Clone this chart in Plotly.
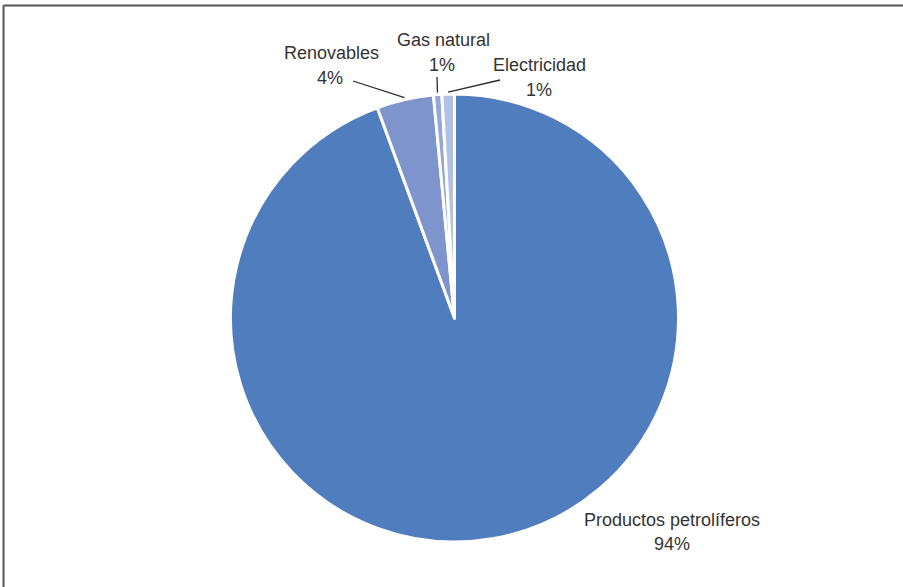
import math
import plotly.graph_objects as go

labels = ["Productos petrolíferos", "Renovables", "Gas natural", "Electricidad"]
values = [94.4, 4.1, 0.6, 0.9]
colors = ["#507DBE", "#7D94CD", "#93A7D8", "#B3C1E4"]

W, H = 903, 587
CX, CY, R = 454.5, 318, 224

def px(x):
    return x / W

def py(y):
    return 1 - y / H

fig = go.Figure(go.Pie(
    labels=labels, values=values, sort=False, direction="clockwise", rotation=0,
    marker=dict(colors=colors, line=dict(color="white", width=3)),
    textinfo="none", hoverinfo="label+percent", showlegend=False,
    domain=dict(x=[px(CX - R), px(CX + R)], y=[py(CY + R), py(CY - R)]),
))

# label anchor positions (pixels): name center, percent center, leader start
label_pos = {
    "Productos petrolíferos": ((672, 520), (672, 544), None),
    "Renovables": ((331, 53), (330, 78), (353, 81)),
    "Gas natural": ((443, 40), (442, 65), (437, 77)),
    "Electricidad": ((539, 65), (539, 90), (500, 80)),
}

total = sum(values)
cum = 0
annotations = []
shapes = []
font = dict(family="Liberation Sans, Arial, sans-serif", size=18, color="#333333")
for lab, v in zip(labels, values):
    mid = (cum + v / 2) / total
    cum += v
    th = 2 * math.pi * mid
    tipx = CX + (R + 2) * math.sin(th)
    tipy = CY - (R + 2) * math.cos(th)
    (nx, ny), (qx, qy), start = label_pos[lab]
    annotations.append(dict(x=px(nx), y=py(ny), xref="paper", yref="paper", text=lab,
                            showarrow=False, font=font, xanchor="center", yanchor="middle"))
    annotations.append(dict(x=px(qx), y=py(qy), xref="paper", yref="paper",
                            text=f"{round(v / total * 100)}%",
                            showarrow=False, font=font, xanchor="center", yanchor="middle"))
    if start:
        shapes.append(dict(type="line", xref="paper", yref="paper",
                           x0=px(start[0]), y0=py(start[1]), x1=px(tipx), y1=py(tipy),
                           line=dict(color="#2b2b2b", width=1.3)))

# frame lines (top and left)
shapes.append(dict(type="line", xref="paper", yref="paper", x0=px(3.5), y0=py(5.5),
                   x1=1.01, y1=py(5.5), line=dict(color="#555555", width=2)))
shapes.append(dict(type="line", xref="paper", yref="paper", x0=px(3.5), y0=py(5.5),
                   x1=px(3.5), y1=-0.01, line=dict(color="#555555", width=2)))

fig.update_layout(
    width=W, height=H, margin=dict(l=0, r=0, t=0, b=0),
    paper_bgcolor="white", plot_bgcolor="white",
    annotations=annotations, shapes=shapes,
)

fig.write_html("out.html")
